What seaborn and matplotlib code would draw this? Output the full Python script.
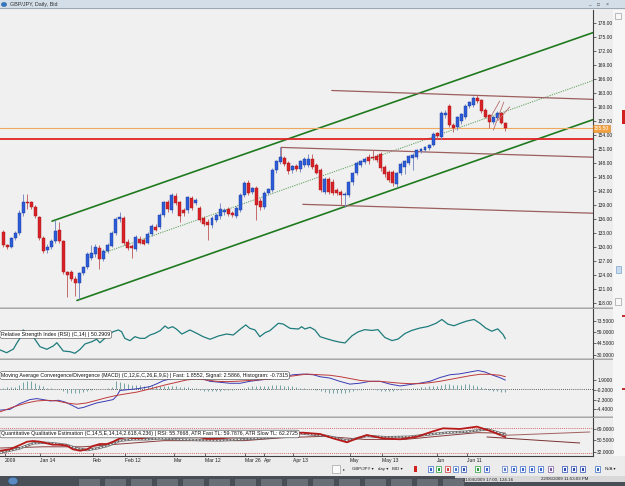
import numpy as np
import pandas as pd
import matplotlib
matplotlib.use("Agg")
import matplotlib.pyplot as plt
from matplotlib.patches import Rectangle, Circle
import matplotlib.transforms as mtransforms
import seaborn as sns

# ---------------- data ----------------
opens = [133.2,130.4,130.0,132.0,133.0,137.3,139.8,139.6,138.6,136.4,132.0,129.4,130.0,131.3,133.6,131.3,124.6,124.6,123.3,122.3,
         124.4,125.7,127.8,128.5,129.8,127.4,129.2,130.3,133.0,136.0,136.3,131.1,130.2,129.6,131.8,131.5,131.0,132.8,134.3,134.3,
         136.9,139.6,137.9,140.9,139.6,137.9,137.9,140.5,139.4,138.4,136.2,135.5,134.7,135.8,136.6,137.6,138.1,137.3,136.6,137.9,
         141.1,143.7,141.8,142.6,140.0,138.6,141.6,142.2,146.5,148.2,149.1,148.0,146.5,147.4,146.7,147.6,147.6,149.0,147.6,146.5,
         141.8,144.6,143.9,142.2,141.8,141.1,141.1,143.9,145.9,147.6,148.2,149.4,149.4,149.6,150.0,147.2,146.1,146.1,143.5,145.9,
         147.1,148.0,149.2,149.3,150.6,150.8,151.2,152.0,154.4,153.6,158.3,160.2,156.1,155.7,157.0,157.9,160.2,160.4,162.0,161.5,
         159.4,158.3,156.8,157.6,158.7,156.6]
highs = [133.6,130.8,132.3,133.4,138.0,141.4,141.5,140.0,139.0,136.8,132.5,130.6,131.8,135.8,135.5,131.6,125.0,125.2,123.8,124.8,
         126.0,128.9,130.5,130.6,130.4,129.6,131.0,133.4,136.4,137.6,136.6,131.8,130.6,132.6,132.4,132.0,133.2,134.9,135.0,137.4,
         140.0,140.2,141.6,141.6,140.0,138.4,141.0,141.0,140.6,138.8,136.8,136.0,136.6,137.4,139.4,138.4,138.6,137.8,138.8,141.6,
         144.2,144.4,143.0,143.2,140.6,142.0,142.8,146.9,148.8,151.4,149.6,148.5,147.6,147.8,148.8,149.4,150.0,150.0,148.0,147.0,
         145.0,145.0,144.6,142.8,142.2,141.8,144.2,146.2,148.4,148.8,149.4,150.0,150.8,150.0,150.4,147.6,146.6,146.6,146.2,148.2,
         148.6,149.8,150.2,151.0,151.2,151.6,152.2,154.6,154.8,159.2,159.4,160.6,156.6,158.2,158.8,160.6,161.4,162.4,162.6,161.8,
         159.8,158.6,158.2,159.2,159.0,156.8]
lows = [130.0,129.6,129.8,131.6,132.6,136.8,138.2,138.2,136.2,131.6,128.8,128.8,129.6,131.0,131.0,124.2,119.3,122.8,119.6,119.0,
        124.0,125.4,127.3,128.0,125.4,127.0,128.8,130.0,132.6,135.4,130.4,129.4,127.6,129.2,130.6,130.4,130.6,132.4,133.4,134.0,
        136.4,137.6,137.4,139.0,135.4,136.8,137.4,138.0,139.0,135.4,134.6,131.5,134.2,135.4,136.0,137.0,136.8,136.4,136.2,137.6,
        140.8,141.2,141.4,135.8,138.0,138.2,141.2,141.8,146.0,147.8,147.4,145.8,146.0,146.4,146.2,147.2,147.2,146.8,145.6,141.8,
        141.4,141.4,141.2,141.2,139.0,138.6,140.8,143.4,145.4,147.2,147.8,147.8,148.6,148.2,146.4,145.0,144.0,143.2,143.0,145.4,
        145.8,147.6,146.5,149.0,150.2,150.4,150.8,151.6,153.2,153.2,157.8,155.8,154.6,155.2,156.4,157.4,159.8,160.0,161.0,158.8,
        157.6,155.6,156.4,157.2,156.4,154.9]
closes = [130.4,130.0,131.9,133.0,137.3,139.6,139.4,138.6,136.6,132.0,129.2,130.0,131.3,133.4,131.3,124.6,124.0,123.1,122.3,124.4,
          125.7,128.5,128.8,130.0,127.4,129.2,130.5,133.0,136.0,136.5,130.9,129.8,129.8,132.1,131.0,130.8,132.8,134.5,133.8,136.9,
          139.6,138.2,141.1,139.4,136.6,137.3,140.7,138.4,140.2,135.8,134.9,134.7,136.2,136.9,138.1,138.0,137.1,136.9,138.4,141.1,
          143.7,141.6,142.6,139.0,138.6,141.6,142.4,146.5,148.4,149.3,147.8,146.4,147.4,146.8,148.5,148.9,149.0,147.2,146.0,142.2,
          144.6,141.8,141.6,141.6,141.3,141.4,143.9,145.9,148.0,148.4,149.0,148.4,149.2,148.8,146.9,145.6,144.4,143.7,145.9,147.8,
          148.4,149.5,149.8,150.8,151.0,151.4,152.0,154.2,153.8,158.7,158.7,156.1,155.5,157.9,158.5,160.2,161.1,162.0,161.3,159.1,
          157.9,156.8,157.9,158.7,156.6,155.5]
bars = list(range(len(closes)))

price_ticks = list(range(118, 179, 3))
last_price = 155.50
support_level = 153.2

# trend lines drawn on the price chart: (bar, price) end points
upper_channel_bar, upper_channel_price = [12.2, 146.8], [135.6, 176.0]
lower_channel_bar, lower_channel_price = [18.4, 146.8], [118.6, 157.35]
mid_channel_bar, mid_channel_price = [25.4, 146.8], [128.9, 165.75]
resist_top_bar, resist_top_price = [81.8, 146.8], [163.6, 161.7]
resist_mid_bar, resist_mid_price = [69.2, 69.2, 146.8], [148.8, 151.4, 149.3]
support_low_bar, support_low_price = [74.6, 146.8], [139.2, 137.3]
fork_bars = [[121.0, 123.6], [122.0, 124.6], [123.2, 126.1]]
fork_prices = [[157.4, 161.35], [155.1, 161.1], [157.2, 160.1]]

# RSI(14)
rsi_pos = [-0.7,0.9,2.6,3.4,4.2,5.0,7.5,9.2,10.9,12.5,13.4,15.0,16.7,17.9,19.2,20.4,22.1,23.3,24.1,25.8,27.4,28.7,29.5,30.3,
           31.6,32.8,34.1,35.3,36.6,37.8,39.1,40.3,41.1,42.2,43.2,44.5,46.5,48.2,49.8,51.5,53.6,55.6,57.3,59.0,60.4,61.4,62.7,
           63.9,65.2,66.4,68.5,69.7,71.4,73.5,74.3,75.1,76.4,77.6,78.9,80.1,82.1,83.8,85.1,86.8,88.3,90.0,91.8,93.3,95.0,96.8,
           98.3,100.0,101.7,103.7,105.7,107.7,109.2,110.7,112.2,113.7,115.4,117.2,118.7,120.1,121.6,123.1,124.4,125.0]
rsi_val = [36.0,32.5,37.3,44.5,50.9,61.6,53.0,40.2,36.9,41.1,45.3,34.7,33.8,31.8,36.9,43.7,46.6,49.7,45.3,53.0,59.4,61.6,59.4,
           50.9,47.9,53.0,50.9,50.9,55.2,57.3,60.7,66.7,63.7,65.8,62.5,56.4,61.6,57.3,53.0,49.7,53.9,56.4,55.2,62.5,68.0,63.7,
           61.6,53.0,58.1,60.7,70.1,69.2,63.7,62.8,65.8,62.8,65.0,61.6,53.0,51.0,48.0,46.0,45.0,54.0,59.0,62.0,61.0,62.0,52.0,
           48.0,50.0,57.0,61.0,64.0,66.0,70.0,75.0,69.0,67.0,70.0,73.0,75.0,70.0,64.0,60.0,63.0,56.0,50.29]
rsi_ticks = [73.5, 59.0, 44.5, 30.0]

# MACD(12,26,9)
macd_fast_pos = [-0.7,1.7,4.2,6.7,8.4,10.0,11.7,13.8,15.4,17.1,18.7,20.0,21.6,23.3,25.8,27.4,28.3,29.1,30.8,33.3,34.9,36.6,38.2,
                 39.9,41.5,43.2,45.7,48.2,49.8,51.5,54.0,56.5,59.0,61.4,63.9,66.4,69.7,72.2,74.7,77.2,78.9,81.3,83.8,86.3,88.8,
                 91.3,93.8,96.3,98.8,101.2,103.7,106.2,108.7,111.2,113.7,116.2,118.2,119.9,121.6,123.6,125.0]
macd_fast = [-4.56,-4.41,-3.15,-2.31,-2.10,-2.31,-2.60,-2.46,-2.82,-3.51,-4.20,-3.99,-3.51,-3.03,-2.60,-2.31,-1.50,-0.36,-0.21,
             0.0,0.21,0.48,1.05,1.74,2.10,2.31,2.44,2.31,2.10,1.60,1.39,1.18,1.18,1.60,1.89,2.10,2.58,3.0,3.15,3.0,2.58,2.3,1.6,
             1.0,1.2,1.6,1.6,1.0,0.6,0.9,1.2,1.6,2.4,3.0,3.2,3.6,3.9,3.6,3.0,2.4,1.8552]
macd_sig_pos = [-0.7,2.6,5.9,8.4,10.9,13.4,15.8,18.3,20.8,23.3,25.8,28.3,30.8,33.3,35.7,38.2,40.7,43.2,45.7,48.2,50.7,53.2,55.6,
                58.1,60.6,63.1,65.6,68.1,70.6,73.1,75.6,78.9,81.3,83.8,86.3,88.8,91.3,93.8,96.3,98.8,101.2,103.7,106.2,108.7,
                111.2,113.7,116.2,118.7,121.1,123.6,125.0]
macd_signal = [-4.92,-3.87,-3.03,-2.60,-2.46,-2.60,-3.03,-3.30,-3.03,-2.46,-1.89,-1.41,-1.05,-0.71,-0.21,0.34,0.90,1.39,1.89,
               2.10,1.89,1.60,1.53,1.60,1.74,1.89,2.02,2.31,2.58,2.86,3.15,3.0,2.9,2.6,2.2,1.8,1.6,1.6,1.4,1.2,1.1,1.1,1.3,1.6,
               2.0,2.4,2.8,3.1,3.1,2.9,2.5866]
macd_hist = [0.2,0.3,0.3,0.3,0.8,1.4,1.6,1.6,1.3,0.9,0.5,0.2,0.1,0.05,-0.1,-0.5,-0.8,-1.0,-1.0,-0.9,
             -0.7,-0.5,-0.3,-0.15,-0.1,-0.05,0.1,0.4,1.6,1.5,1.2,1.0,0.9,0.8,0.8,0.7,0.7,0.6,0.6,0.6,
             0.7,0.6,0.6,0.5,0.4,0.3,0.3,0.2,0.1,-0.3,-0.4,-0.5,-0.5,-0.4,-0.4,-0.3,-0.3,-0.2,-0.1,0.0,
             0.1,0.4,0.5,0.6,0.7,0.6,0.6,0.8,0.9,0.9,0.7,0.6,0.5,0.3,0.2,0.1,0.0,-0.1,-0.2,-0.4,
             -0.6,-0.8,-0.9,-1.0,-1.0,-0.9,-0.7,-0.5,-0.3,-0.2,-0.1,0.0,0.0,-0.2,-0.4,-0.5,-0.5,-0.4,-0.3,-0.2,
             -0.1,0.0,0.1,0.2,0.3,0.4,0.5,0.6,0.7,0.9,1.0,1.0,0.9,0.9,0.9,1.0,1.0,0.9,0.7,0.4,
             0.1,-0.2,-0.4,-0.5,-0.6,-0.7315]
macd_ticks = [1.9, -0.2, -2.3, -4.4]

# QQE
qqe_pos = [-0.7,1.7,4.2,6.0,7.5,9.2,10.9,12.4,14.2,15.9,17.4,19.2,20.9,22.4,24.1,25.9,27.4,29.1,30.8,32.3,34.1,35.8,37.3,39.1,
           40.8,42.3,45.8,49.0,50.7,52.2,54.0,57.2,60.7,63.9,67.2,69.7,72.1,74.6,78.9,82.1,85.6,88.1,90.5,94.5,98.8,103.0,
           106.7,109.5,113.7,117.9,121.1,125.0]
qqe_rsi = [33.6,35.9,42.9,48.3,49.4,48.3,45.7,43.4,43.4,41.8,35.9,33.6,35.9,41.3,44.5,44.5,48.3,53.8,55.5,54.3,53.8,55.5,56.4,
           57.6,57.6,56.4,56.4,55.5,53.2,53.2,53.8,55.5,56.4,57.6,59.2,60.8,62.0,63.0,60.8,53.8,47.3,53.8,59.2,53.8,52.2,56.4,
           64.6,70.1,69.0,72.8,66.2,55.7668]
qqe_fast_pos = [-0.7,4.2,7.5,10.0,12.4,15.9,18.4,20.9,23.4,25.9,29.1,32.3,35.8,39.1,44.0,49.0,54.0,59.0,63.9,68.9,73.9,80.6,
                85.6,90.5,95.5,101.2,107.0,110.4,115.4,120.4,125.0]
qqe_fast = [30.3,37.5,45.7,46.7,45.7,42.9,37.5,34.7,37.5,41.3,49.9,52.2,52.2,53.8,52.0,51.0,50.5,52.0,54.0,56.5,62.0,57.6,
            49.9,57.6,55.5,56.4,60.8,63.0,64.6,68.5,59.7876]
qqe_slow_pos = [-0.7,10.0,20.0,28.0,40.0,50.0,60.0,70.0,80.0,90.0,100.0,108.0,118.0,125.0]
qqe_slow = [38.0,40.0,40.0,44.0,50.0,50.0,50.0,55.0,57.0,52.0,52.0,57.0,63.0,62.2725]
qqe_ticks = [69.0, 50.5, 32.0]
qqe_levels = [70, 30]
qqe_line1_bar, qqe_line1_val = [120.4, 143.5], [56.0, 46.2]
qqe_line2_bar, qqe_line2_val = [123.6, 146.0], [58.4, 64.1]

date_pos = [0.5, 9.2, 22.4, 30.3, 42.5, 50.2, 60.2, 64.9, 72.1, 86.3, 94.3, 108.0, 115.4]
date_labels = ["2009", "Jan 14", "Feb", "Feb 12", "Mar", "Mar 12", "Mar 26", "Apr", "Apr 13", "May", "May 13", "Jun", "Jun 11"]

# ---------------- figure ----------------
sns.set_theme(style="white")
plt.rcParams['font.family'] = ['Liberation Sans', 'DejaVu Sans']

W, H = 625, 486
fig = plt.figure(figsize=(W / 100, H / 100), dpi=100)
fig.patch.set_facecolor('#EDEDED')

def rect(x0, y0, x1, y1):
    return [x0 / W, 1 - y1 / H, (x1 - x0) / W, (y1 - y0) / H]

def fbox(x0, y0, x1, y1, fc, ec='none', lw=0.0, z=0):
    fig.patches.append(Rectangle((x0 / W, 1 - y1 / H), (x1 - x0) / W, (y1 - y0) / H,
                                 transform=fig.transFigure, fc=fc, ec=ec, lw=lw, zorder=z))

def ftext(x, y, s, size=3.4, color='#202020', ha='left', **kw):
    fig.text(x / W, 1 - y / H, s, fontsize=size, color=color, ha=ha, va='center', **kw)

XMIN, XMAX = -0.75, 146.8
BG = '#F0F0F0'

ax_p = fig.add_axes(rect(0, 10, 593, 307))
ax_r = fig.add_axes(rect(0, 309, 593, 358))
ax_m = fig.add_axes(rect(0, 360, 593, 416))
ax_q = fig.add_axes(rect(0, 418, 593, 456))

def style(ax, ylim, ticks, fmt):
    ax.set_facecolor(BG)
    ax.set_xlim(XMIN, XMAX)
    ax.set_ylim(*ylim)
    ax.yaxis.tick_right()
    ax.set_yticks(ticks)
    ax.set_yticklabels([fmt.format(t) for t in ticks])
    ax.tick_params(axis='y', direction='out', length=2.2, width=0.5, pad=0.8, labelsize=3.5,
                   colors='#303030', labelcolor='#202020')
    ax.tick_params(axis='x', bottom=False, labelbottom=False)
    for s in ['top', 'left', 'bottom']:
        ax.spines[s].set_visible(False)
    ax.spines['right'].set_color('#404040')
    ax.spines['right'].set_linewidth(0.8)
    ax.set_xlabel('')
    ax.set_ylabel('')
    ax.grid(False)

# ---- price panel ----
up = [c >= o for o, c in zip(opens, closes)]
body_col = ['#2C5CD8' if u else '#D92228' for u in up]
edge_col = ['#1A3C9A' if u else '#A81418' for u in up]
wick_col = ['#7E8EC4' if u else '#C46A6A' for u in up]
body_bot = [min(o, c) for o, c in zip(opens, closes)]
body_h = [max(abs(c - o), 0.18) for o, c in zip(opens, closes)]

ax_p.plot(upper_channel_bar, upper_channel_price, color='#1F7A1F', lw=1.2, zorder=2)
ax_p.plot(lower_channel_bar, lower_channel_price, color='#1F7A1F', lw=1.2, zorder=2)
ax_p.plot(mid_channel_bar, mid_channel_price, color='#5A9E5A', lw=0.7, ls=(0, (1.2, 1.2)), zorder=2)
for bx, py in [(resist_top_bar, resist_top_price), (resist_mid_bar, resist_mid_price), (support_low_bar, support_low_price)]:
    ax_p.plot(bx, py, color='#9C5E5E', lw=0.9, zorder=2)
ax_p.axhline(support_level, color='#E02424', lw=1.3, zorder=2)
ax_p.axhline(last_price, color='#F0A860', lw=0.8, zorder=2)
ax_p.vlines(bars, lows, highs, colors=wick_col, lw=0.7, zorder=3)
ax_p.bar(bars, body_h, bottom=body_bot, width=0.74, color=body_col, edgecolor=edge_col, linewidth=0.3, zorder=4)
for fb, fp in zip(fork_bars, fork_prices):
    ax_p.plot(fb, fp, color='#B86C6C', lw=0.6, zorder=5)
style(ax_p, (117.2, 180.85), price_ticks, '{:.2f}')
trans = mtransforms.blended_transform_factory(ax_p.transAxes, ax_p.transData)
ax_p.text(1.0015, last_price, '{:.2f}'.format(last_price), transform=trans, fontsize=3.5, color='white',
          va='center', ha='left', zorder=10,
          bbox=dict(boxstyle='square,pad=0.25', fc='#F2A040', ec='#D08020', lw=0.4))

box_kw = dict(boxstyle='round,pad=0.25,rounding_size=0.4', fc='white', ec='#404040', lw=0.4)

# ---- RSI panel ----
sns.lineplot(x=rsi_pos, y=rsi_val, ax=ax_r, color='#1E7C7C', lw=0.9, sort=False)
style(ax_r, (25.75, 88.4), rsi_ticks, '{:.4f}')
ax_r.text(0.002, 0.48, 'Relative Strength Index (RSI) (C,14) | 50.2909', transform=ax_r.transAxes,
          fontsize=3.8, color='#101010', va='center', ha='left', zorder=10, bbox=box_kw)

# ---- MACD panel ----
ax_m.axhline(0, color='#303030', lw=0.6, ls=(0, (1, 1.5)))
ax_m.vlines(bars, 0, macd_hist, colors='#5E9696', lw=0.6)
sns.lineplot(x=macd_fast_pos, y=macd_fast, ax=ax_m, color='#3A3AB4', lw=0.7, sort=False)
sns.lineplot(x=macd_sig_pos, y=macd_signal, ax=ax_m, color='#C03A3A', lw=0.7, sort=False)
style(ax_m, (-5.82, 6.16), macd_ticks, '{:.4f}')
ax_m.text(0.002, 0.723, 'Moving Average Convergence/Divergence (MACD) (C,12,E,C,26,E,9,E) | Fast: 1.8552, Signal: 2.5866, Histogram: -0.7315',
          transform=ax_m.transAxes, fontsize=3.8, color='#101010', va='center', ha='left', zorder=10, bbox=box_kw)

# ---- QQE panel ----
for lv in qqe_levels:
    ax_q.axhline(lv, color='#D04848', lw=0.6, ls=(0, (1, 1.3)))
sns.lineplot(x=qqe_slow_pos, y=qqe_slow, ax=ax_q, color='#8A3C3C', lw=0.7, sort=False)
sns.lineplot(x=qqe_fast_pos, y=qqe_fast, ax=ax_q, color='#6A6A6A', lw=1.7, sort=False)
sns.lineplot(x=qqe_fast_pos, y=qqe_fast, ax=ax_q, color='#F4F4F4', lw=0.7, sort=False)
ax_q.lines[-1].set_linestyle((0, (2, 1.5)))
sns.lineplot(x=qqe_pos, y=qqe_rsi, ax=ax_q, color='#B81A1A', lw=1.3, sort=False)
ax_q.plot(qqe_line1_bar, qqe_line1_val, color='#7A3030', lw=0.7)
ax_q.plot(qqe_line2_bar, qqe_line2_val, color='#A06060', lw=0.7)
style(ax_q, (25.0, 86.9), qqe_ticks, '{:.4f}')
ax_q.text(0.002, 0.579, 'Quantitative Qualitative Estimation (C,14,5,E,14,14,2.618,4.236) | RSI: 55.7668, ATR Fast TL: 59.7876, ATR Slow TL: 62.2725',
          transform=ax_q.transAxes, fontsize=3.8, color='#101010', va='center', ha='left', zorder=10, bbox=box_kw)
ax_q.spines['bottom'].set_visible(True)
ax_q.spines['bottom'].set_color('#404040')
ax_q.spines['bottom'].set_linewidth(0.8)
ax_q.set_xticks(date_pos)
ax_q.set_xticklabels(date_labels, ha='left')
ax_q.tick_params(axis='x', bottom=True, labelbottom=True, direction='in', length=2, width=0.5,
                 labelsize=3.6, pad=1.5, colors='#303030', labelcolor='#202020')

# ---------------- window chrome ----------------
fbox(0, 0, 625, 9, '#D4DEE8', z=-1)
fbox(0, 8.4, 625, 9.2, '#9AA8B6', z=-1)
fig.patches.append(Circle((4 / W, 1 - 4.5 / H), 2.6 / W, transform=fig.transFigure, fc='#2E78C8', ec='#1A4A80', lw=0.3))
ftext(9.5, 4.6, 'GBP/JPY, Daily, Bid', size=3.9, color='#303030')
ftext(588, 3.8, '_', size=3.6, color='#505050')
ftext(597, 4.4, '\u25a1', size=3.4, color='#505050')
ftext(606, 4.4, '\u00d7', size=3.8, color='#505050')
# panel separators
for y0 in (307, 358, 416):
    fbox(0, y0, 625, y0 + 2, '#A8A8A8', z=-1)
    fbox(0, y0, 625, y0 + 0.6, '#C8C8C8', z=-1)
# right strip / scrollbar
fbox(613, 10, 625, 456, '#F6F6F6', z=-1)
fbox(612.6, 10, 613.4, 456, '#9A9A9A', z=-1)
fbox(615, 13, 621, 19.5, '#F8F8F8', ec='#8A8A8A', lw=0.4)
fbox(615, 298, 621, 304.5, '#F8F8F8', ec='#8A8A8A', lw=0.4)
fbox(615.5, 266, 620.5, 273, '#C8DCF0', ec='#6A90C0', lw=0.4)
fbox(622, 110, 625, 124, '#D02020')
fbox(622, 315, 625, 317, '#C03030')
fbox(622, 388, 625, 390, '#C03030')
# toolbar
fbox(0, 456, 625, 476, '#ECECEC', z=-1)
fbox(332, 465, 340, 473, '#FAFAFA', ec='#909090', lw=0.4)
ftext(343, 469, '\u25b8', size=3.0, color='#404040')
ftext(352, 469, 'GBP/JPY \u25be', size=3.2)
ftext(378, 469, 'day \u25be', size=3.2)
ftext(392, 469, 'BID \u25be', size=3.2)
fbox(414, 466, 417, 472, '#D02020')
icon_cols = ['#3A66C8', '#2A9A3A', '#D03A3A', '#4A7AC8', '#3050B0', '#2A9A3A', '#3A66C8',
             '#5A7AC8', '#3A66C8', '#3A66C8', '#3A66C8', '#3A66C8', '#7A5AA0', '#2A4AB0', '#2A4AB0', '#2A4AB0', '#3A6AC0']
icon_x = [428, 436, 445, 453, 461, 475, 484, 502, 511, 520, 529, 538, 548, 562, 571, 580, 595]
for ix, ic in zip(icon_x, icon_cols):
    fbox(ix, 466, ix + 5, 472, '#F4F8FF', ec=ic, lw=0.5)
    fbox(ix + 1.5, 467.5, ix + 3.5, 470.5, ic)
ftext(605, 469, 'N/A \u25be', size=3.2)
# status / task bar
fbox(0, 476, 625, 486, '#4A4E56', z=-1)
fbox(455, 476, 625, 482, '#D8D8D8', z=-1)
fig.patches.append(Circle((13 / W, 1 - 481 / H), 5.0 / W, transform=fig.transFigure, fc='#5A8AC0', ec='#2A4A70', lw=0.4))
for bx in range(78, 450, 26):
    fbox(bx, 478, bx + 22, 486, '#6A6E76', ec='#3A3E44', lw=0.4)
ftext(463, 479.2, '21/04/2009 17:00, 124.16', size=3.2, color='#202020')
ftext(541, 479.2, '22/06/2009 11:53:03 PM', size=3.2, color='#202020')

fig.savefig('out.png', dpi=100, facecolor=fig.get_facecolor())
